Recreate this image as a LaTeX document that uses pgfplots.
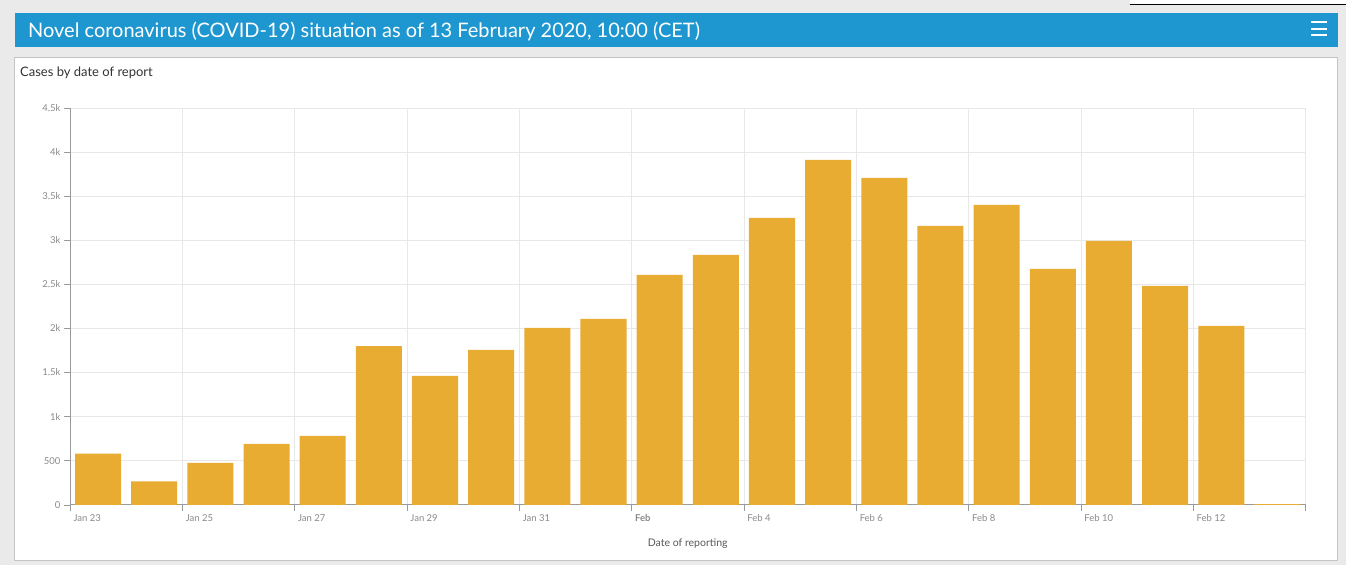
\documentclass[border=0pt]{standalone}
\usepackage{pgfplots}
\pgfplotsset{compat=1.18}
\usepackage{fontspec}
\setmainfont{Lato}
\definecolor{bgray}{HTML}{EAEAEA}
\definecolor{hblue}{HTML}{1E96D0}
\definecolor{barc}{RGB}{233,172,51}
\definecolor{gridc}{HTML}{E8E8E8}
\definecolor{axc}{HTML}{9A9A9A}
\definecolor{tickc}{HTML}{8A8A8A}
\definecolor{panelc}{HTML}{C4C4C4}
\pgfplotstableread{
x y
0.5 580
1.5 265
2.5 476
3.5 691
4.5 782
5.5 1800
6.5 1462
7.5 1757
8.5 2006
9.5 2108
10.5 2607
11.5 2834
12.5 3253
13.5 3911
14.5 3707
15.5 3162
16.5 3400
17.5 2675
18.5 2992
19.5 2482
20.5 2029
21.5 8
}\cases
\begin{document}
\begin{tikzpicture}[x=1pt,y=1pt]
\fill[bgray] (0,0) rectangle (1346,565);
\fill[white] (1130,561) rectangle (1346,565);
\draw[black, line width=1pt] (1130,560.5) -- (1346,560.5);
\fill[hblue] (15,518) rectangle (1338,552);
\node[anchor=west, text=white, inner sep=0pt] at (28,534) {\resizebox{672pt}{!}{Novel coronavirus (COVID-19) situation as of 13 February 2020, 10:00 (CET)}};
\draw[white, line width=2pt] (1311,542.5) -- (1327,542.5);
\draw[white, line width=2pt] (1311,536) -- (1327,536);
\draw[white, line width=2pt] (1311,529.5) -- (1327,529.5);
\filldraw[fill=white, draw=panelc] (14,5) rectangle (1338,508);
\node[anchor=west, inner sep=0pt, text=black!80] at (20,492) {\fontsize{13}{15}\selectfont Cases by date of report};
\begin{axis}[
  at={(70pt,60pt)}, anchor=south west,
  scale only axis, width=1236pt, height=397pt,
  xmin=0, xmax=22, ymin=0, ymax=4500,
  enlargelimits=false,
  axis x line*=bottom, axis y line*=left,
  axis line style={axc, line width=0.8pt},
  tick align=outside,
  major tick length=6pt,
  major tick style={axc, line width=0.6pt},
  xmajorgrids, ymajorgrids,
  major grid style={gridc, line width=0.7pt},
  xtick={0,2,4,6,8,10,12,14,16,18,20,22},
  xticklabels={Jan 23,Jan 25,Jan 27,Jan 29,Jan 31,\textbf{Feb},Feb 4,Feb 6,Feb 8,Feb 10,Feb 12,{}},
  ytick={0,500,1000,1500,2000,2500,3000,3500,4000,4500},
  yticklabels={0,500,1k,1.5k,2k,2.5k,3k,3.5k,4k,4.5k},
  xticklabel style={anchor=north west, xshift=0pt, text=tickc, font=\fontsize{9.5}{11}\selectfont},
  yticklabel style={text=tickc, font=\fontsize{9.5}{11}\selectfont},
  /pgf/number format/assume math mode=true,
]
\addplot[ybar, bar width=0.82, fill=barc, draw=none] table[x=x, y=y] {\cases};
\end{axis}
\node[text=black!65] at (688,21) {\fontsize{10.5}{12}\selectfont Date of reporting};
\end{tikzpicture}
\end{document}
